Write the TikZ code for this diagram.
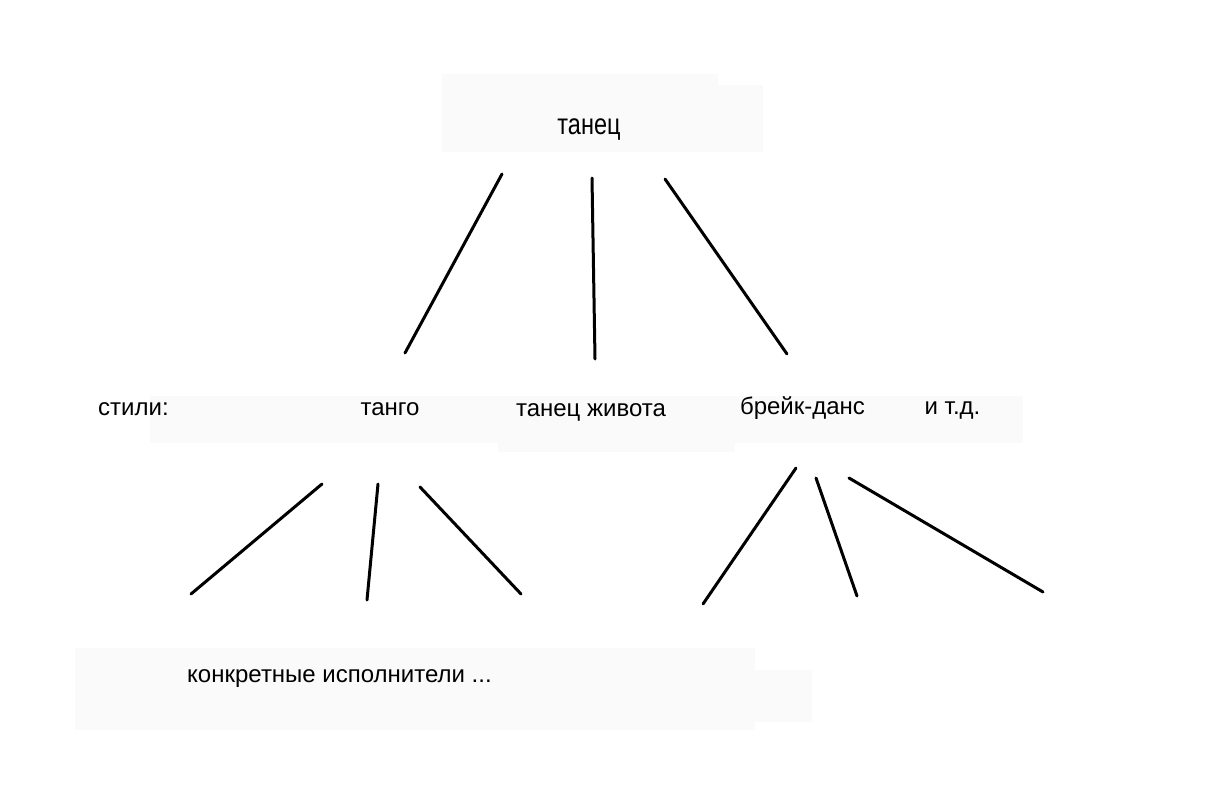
\documentclass[tikz,border=0pt]{standalone}
\usepackage{fontspec}
\setmainfont{Liberation Sans}
\tikzset{
  lbl/.style={inner sep=0pt, anchor=base, font=\fontsize{24}{28}\selectfont, text=black},
  edge/.style={line width=3pt, line cap=round, black},
  shade/.style={fill=black!2, draw=none},
}
\begin{document}
\begin{tikzpicture}[x=1pt,y=-1pt]
\useasboundingbox[fill=white] (0,0) rectangle (1218,800);
% faint background panels
\fill[shade] (442,74) rectangle (718,152);
\fill[shade] (442,85) rectangle (763,152);
\fill[shade] (150,396) rectangle (1023,443);
\fill[shade] (498,396) rectangle (735,452);
\fill[shade] (75,648) rectangle (755,730);
\fill[shade] (755,670) rectangle (812,722);
% texts
\node[lbl] (dance) at (589,134) {\scalebox{0.98}[1.22]{танец}};
\node[lbl, anchor=base west] (styles) at (98,415) {стили:};
\node[lbl] (tango) at (390,415) {танго};
\node[lbl] (belly) at (591,416.5) {танец живота};
\node[lbl] (break) at (802.5,414) {брейк-данс};
\node[lbl] (etc) at (952.5,414) {и т.д.};
\node[lbl, anchor=base west] (artists) at (187,682) {конкретные исполнители ...};
% connector end points
\coordinate (d1) at (502,174); \coordinate (t1) at (405,353);
\coordinate (d2) at (592,178); \coordinate (b2) at (595,359);
\coordinate (d3) at (665,179); \coordinate (k3) at (787,354);
\coordinate (ta) at (322,484); \coordinate (a1) at (191,594);
\coordinate (tb) at (378,484); \coordinate (a2) at (367,600);
\coordinate (tc) at (420,487); \coordinate (a3) at (521,594);
\coordinate (ka) at (796,468); \coordinate (a4) at (703,604);
\coordinate (kb) at (816,478); \coordinate (a5) at (857,596);
\coordinate (kc) at (849,478); \coordinate (a6) at (1043,592);
\draw[edge] (d1) -- (t1);
\draw[edge] (d2) -- (b2);
\draw[edge] (d3) -- (k3);
\draw[edge] (ta) -- (a1);
\draw[edge] (tb) -- (a2);
\draw[edge] (tc) -- (a3);
\draw[edge] (ka) -- (a4);
\draw[edge] (kb) -- (a5);
\draw[edge] (kc) -- (a6);
\end{tikzpicture}
\end{document}
